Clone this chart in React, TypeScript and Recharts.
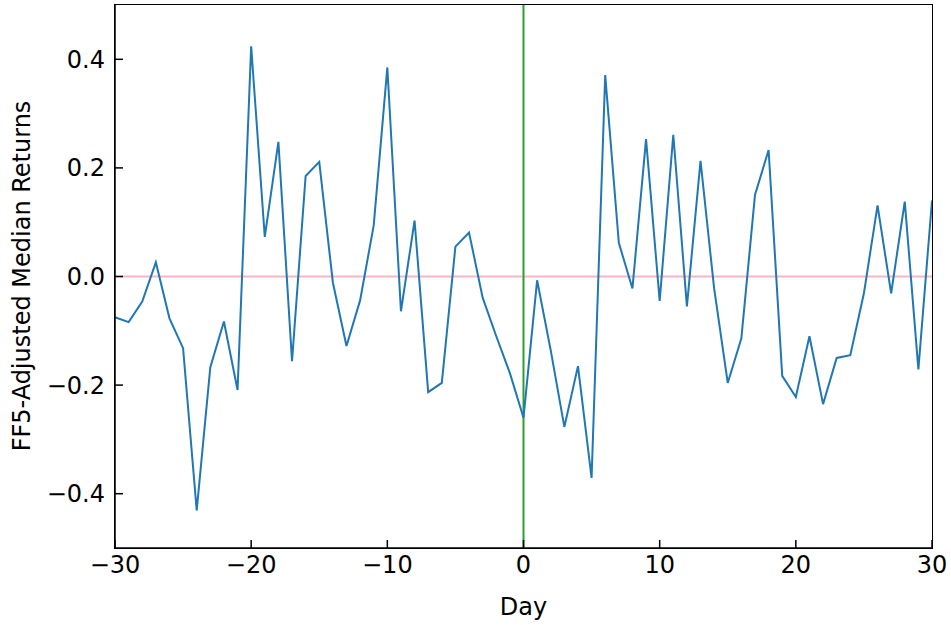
import React from 'react';
import { ComposedChart, Line, XAxis, YAxis, ReferenceLine } from 'recharts';

const days = Array.from({ length: 61 }, (_, i) => i - 30);
const returns = [
  -0.075, -0.084, -0.046, 0.026, -0.077, -0.132, -0.431, -0.167, -0.083, -0.209,
  0.424, 0.073, 0.248, -0.156, 0.185, 0.211, -0.011, -0.128, -0.044, 0.094,
  0.385, -0.064, 0.103, -0.213, -0.196, 0.055, 0.081, -0.039, -0.11, -0.178,
  -0.26, -0.007, -0.136, -0.277, -0.165, -0.371, 0.371, 0.062, -0.022, 0.253,
  -0.045, 0.261, -0.055, 0.213, -0.022, -0.196, -0.114, 0.15, 0.233, -0.183,
  -0.222, -0.11, -0.235, -0.15, -0.145, -0.031, 0.131, -0.031, 0.138, -0.171,
  0.14,
];
const xTicks = [-30, -20, -10, 0, 10, 20, 30];
const yTicks = [-0.4, -0.2, 0.0, 0.2, 0.4];

const data = days.map((d, i) => ({ day: d, value: returns[i] }));
const fmtX = (v: number) => String(v).replace('-', '\u2212');
const fmtY = (v: number) => v.toFixed(1).replace('-', '\u2212');
const tickStyle = { fill: '#000', fontSize: 24, fontFamily: 'DejaVu Sans' };

export default function App() {
  return (
    <div style={{ position: 'absolute', left: 0, top: 0, width: 951, height: 625 }}>
      <ComposedChart width={951} height={625} data={data} margin={{ top: 5, right: 19, left: 0, bottom: 0 }}>
        <XAxis dataKey="day" type="number" domain={[-30, 30]} ticks={xTicks} tickFormatter={fmtX}
          stroke="#000" strokeWidth={1.5} tickSize={-8} tickMargin={16} tick={tickStyle} height={77}
          label={{ value: 'Day', position: 'insideBottom', offset: 10, style: tickStyle }} />
        <YAxis type="number" domain={[-0.5, 0.5]} ticks={yTicks} tickFormatter={fmtY}
          stroke="#000" strokeWidth={1.5} tickSize={-8} tickMargin={18} tick={tickStyle} width={115} />
        <ReferenceLine y={0} stroke="#f7b6c8" strokeWidth={2} />
        <ReferenceLine x={0} stroke="#2ca02c" strokeWidth={2} />
        <Line dataKey="value" stroke="#1f77b4" strokeWidth={2} dot={false} isAnimationActive={false} />
      </ComposedChart>
      <div style={{ position: 'absolute', left: 114, top: 4, width: 817, height: 543, border: '1.5px solid #000', pointerEvents: 'none' }} />
      <div style={{ position: 'absolute', left: 22, top: 276, transform: 'translate(-50%, -50%) rotate(-90deg)', whiteSpace: 'nowrap', fontFamily: 'DejaVu Sans', fontSize: 24 }}>
        FF5-Adjusted Median Returns
      </div>
    </div>
  );
}
